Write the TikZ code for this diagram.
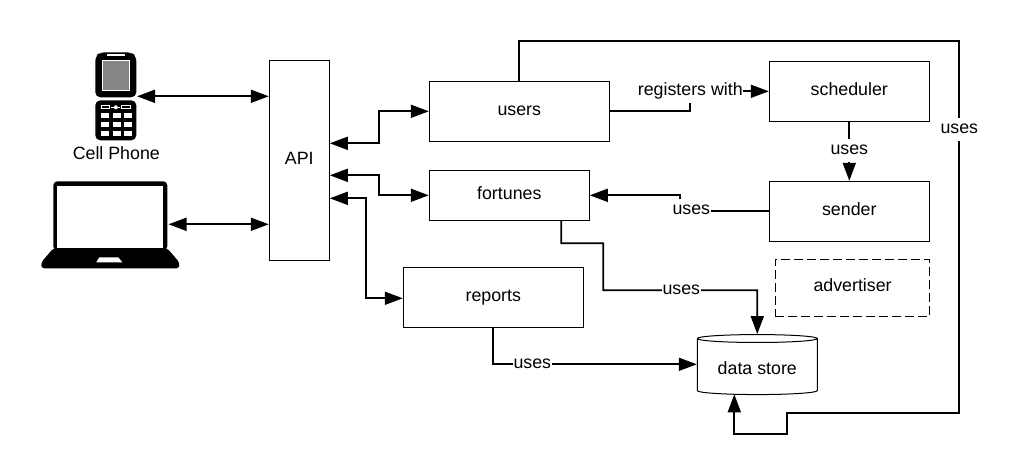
\documentclass[tikz,border=0pt]{standalone}
\usepackage{fontspec}
\setmainfont{Liberation Sans}
\usetikzlibrary{arrows.meta,shapes.geometric}
\tikzset{
  box/.style={draw,line width=1pt,inner sep=0pt,text height=9pt,text depth=1pt},
  link/.style={line width=1.7pt,-{Triangle[length=18pt,width=13pt]}},
  both/.style={line width=1.7pt,{Triangle[length=18pt,width=13pt]}-{Triangle[length=18pt,width=13pt]}},
  tag/.style={fill=white,inner xsep=0.5pt,inner ysep=6.5pt,text height=9pt,text depth=1pt},
}
\begin{document}
\begin{tikzpicture}[x=1pt,y=-1pt,font=\fontsize{17.8}{20}\selectfont]
  \useasboundingbox (-0.3,-0.3) rectangle (1017.7,475.7);

  \node[minimum width=41pt,minimum height=88pt,inner sep=0pt] (phone) at (116,96) {};
  \fill[rounded corners=5pt] (95,56)--(100,52)--(131,52)--(136,56)--(136,97)--(95,97)--cycle;
  \fill[rounded corners=5pt] (95,100)--(136,100)--(136,140)--(95,140)--cycle;
  \fill[white] (107,53.5) rectangle (125,55.5);
  \draw[white,fill=gray!95,line width=0.8pt] (102,60.5) rectangle (129.5,90.5);
  \draw[white,line width=1pt] (101,105.5) rectangle (109,108.5);
  \draw[white,line width=1pt] (121.5,105.5) rectangle (130.5,108.5);
  \draw[white,line width=1pt] (111,107)--(120,107);
  \fill[white] (115.5,107) circle (2pt);
  \foreach \keyy in {113,122,130.5}
    \foreach \keyx in {101,112.5,124}
      \fill[white] (\keyx,\keyy) rectangle ++(8,5);
  \node (cell) at (116,153) {Cell Phone};

  \node[minimum width=116pt,minimum height=87pt,inner sep=0pt] (laptop) at (110,224) {};
  \fill[rounded corners=4pt] (53,250)--(53,181)--(167,181)--(167,250)--cycle;
  \fill[white] (57,186) rectangle (163,248);
  \fill[rounded corners=3pt] (53,248)--(41,262)--(41,268)--(179,268)--(179,262)--(167,248)--cycle;
  \fill[white] (99,257)--(118,257)--(122,262)--(96,262)--cycle;

  \node[box,minimum width=60pt,minimum height=200pt] (api) at (299,160.5) {API};
  \node[box,minimum width=180pt,minimum height=60pt] (users) at (519,111) {users};
  \node[box,minimum width=160pt,minimum height=50pt] (fortunes) at (509,195) {fortunes};
  \node[box,minimum width=180pt,minimum height=60pt] (reports) at (493,297) {reports};
  \node[box,minimum width=160pt,minimum height=60pt] (scheduler) at (849,91) {scheduler};
  \node[box,minimum width=160pt,minimum height=60pt] (sender) at (849,211) {sender};
  \node[box,dash pattern=on 9pt off 4pt,minimum width=154.5pt,minimum height=57pt] (advertiser) at (852.3,287.5) {advertiser};
  \node[box,text height=16pt,cylinder,shape border rotate=90,aspect=0.1,minimum width=120pt,minimum height=60pt] (store) at (757,366.5) {data store};

  \coordinate (apiU) at (329.5,143);
  \coordinate (apiF) at (329.5,175);
  \coordinate (apiR) at (329.5,198);
  \coordinate (loopA) at (959,41);
  \coordinate (loopB) at (959,413);
  \coordinate (storeB) at (734,394);

  \draw[both] (phone.east)--(phone.east -| api.west);
  \draw[both] (laptop.east)--(laptop.east -| api.west);
  \draw[both] (apiU)--(379,143)--(379,111)--(users.west);
  \draw[both] (apiF)--(379,175)--(379,195)--(fortunes.west);
  \draw[both] (apiR)--(366,198)--(366,298)--(reports.west |- 366,298);

  \draw[link] (users.east)--(690,111)--(690,91)--(scheduler.west);
  \node[tag] (regtag) at (690,91) {registers with};
  \draw[link] (scheduler.south)--(sender.north);
  \node[tag] (schedtag) at (849,150) {uses};
  \draw[link] (sender.west)--(680,211)--(680,195)--(fortunes.east);
  \node[tag] (sendtag) at (691,210) {uses};
  \draw[link] (561,220)--(561,243)--(603,243)--(603,290)--(757,290)--(store.north);
  \node[tag] (forttag) at (681,290) {uses};
  \draw[link] (reports.south)--(493,364)--(store.west |- 493,364);
  \node[tag] (reptag) at (532,364) {uses};
  \draw[link] (users.north)--(519,41)--(loopA)--(loopB)--(787,413)--(787,434)--(734,434)--(storeB);
  \node[tag] (looptag) at (959,129) {uses};
\end{tikzpicture}
\end{document}
